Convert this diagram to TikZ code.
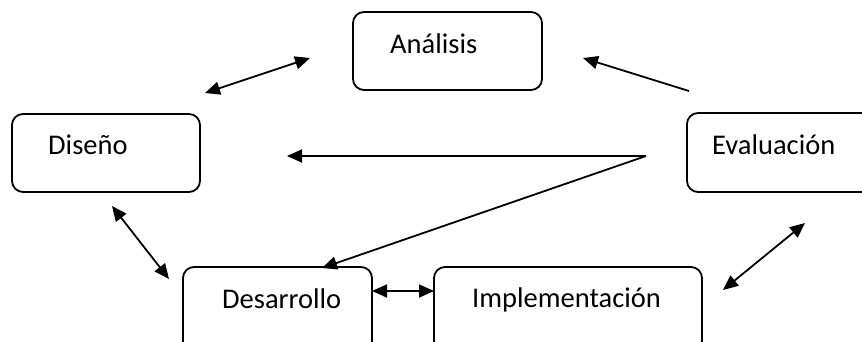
\documentclass[tikz,border=0pt]{standalone}
\usepackage{fontspec}
\setmainfont{Carlito}
\usetikzlibrary{arrows.meta}
\begin{document}
\begin{tikzpicture}[x=1pt,y=-1pt,
  box/.style={draw, line width=1.8pt, rounded corners=11pt, inner sep=0pt},
  lbl/.style={font=\fontsize{28.5}{32}\selectfont, inner sep=0pt, anchor=base west},
  conn/.style={line width=1.8pt, -{Triangle[length=15pt,width=13pt]}},
  dconn/.style={line width=1.8pt, {Triangle[length=15pt,width=13pt]}-{Triangle[length=15pt,width=13pt]}}]
\useasboundingbox (0,0) rectangle (862,341);
\clip (0,0) rectangle (862,341);
% boxes
\node[box, minimum width=189pt, minimum height=78pt] (ana) at (447.5,51) {};
\node[box, minimum width=188pt, minimum height=78pt] (dis) at (106,153) {};
\node[box, minimum width=195pt, minimum height=79pt] (eva) at (784.5,152.5) {};
\node[box, minimum width=189pt, minimum height=90pt] (des) at (277.5,312) {};
\node[box, minimum width=268pt, minimum height=90pt] (imp) at (568,312) {};
% labels
\node[lbl] (tana) at (390,53) {Análisis};
\node[lbl] (tdis) at (48,154) {Diseño};
\node[lbl] (teva) at (712,154) {Evaluación};
\node[lbl] (tdes) at (222,308) {Desarrollo};
\node[lbl] (timp) at (472,307) {Implementación};
% connector ends
\coordinate (a1) at (205,93);
\coordinate (a2) at (310,58);
\coordinate (e1) at (689,91);
\coordinate (e2) at (583,58);
\coordinate (hub) at (646,156);
\coordinate (d1) at (287,156);
\coordinate (s1) at (322,268);
\coordinate (b1) at (112,206);
\coordinate (b2) at (169,279);
\coordinate (c1) at (372,291);
\coordinate (c2) at (434,291);
\coordinate (f1) at (723,290);
\coordinate (f2) at (805,223);
% connectors
\draw[dconn] (a1) -- (a2);
\draw[conn] (e1) -- (e2);
\draw[conn] (hub) -- (d1);
\draw[conn] (hub) -- (s1);
\draw[dconn] (b1) -- (b2);
\draw[dconn] (c1) -- (c2);
\draw[dconn] (f1) -- (f2);
\end{tikzpicture}
\end{document}
